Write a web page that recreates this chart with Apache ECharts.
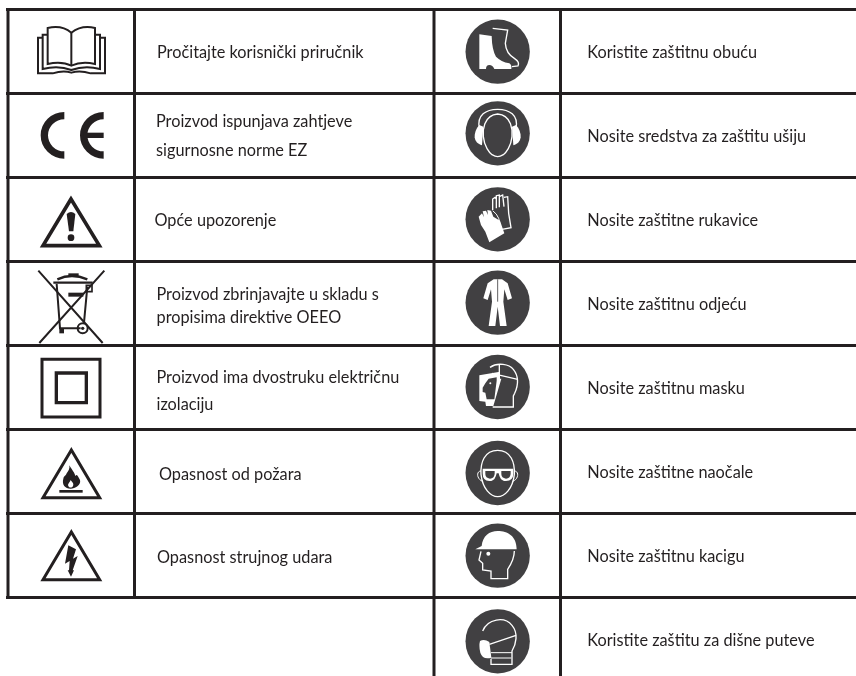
<!DOCTYPE html>
<html>
<head>
<meta charset="utf-8">
<style>html,body{margin:0;padding:0;background:#fff}#c{width:856px;height:676px}</style>
<script src="https://cdn.jsdelivr.net/npm/echarts@6/dist/echarts.min.js"></script>
</head>
<body>
<div id="c"></div>
<script>
// ---- table content ----
const leftLabels = [
  ['Pročitajte korisnički priručnik'],
  ['Proizvod ispunjava zahtjeve', 'sigurnosne norme EZ'],
  ['Opće upozorenje'],
  ['Proizvod zbrinjavajte u skladu s', 'propisima direktive OEEO'],
  ['Proizvod ima dvostruku električnu', 'izolaciju'],
  ['Opasnost od požara'],
  ['Opasnost strujnog udara']
];
const rightLabels = [
  ['Koristite zaštitnu obuću'],
  ['Nosite sredstva za zaštitu ušiju'],
  ['Nosite zaštitne rukavice'],
  ['Nosite zaštitnu odjeću'],
  ['Nosite zaštitnu masku'],
  ['Nosite zaštitne naočale'],
  ['Nosite zaštitnu kacigu'],
  ['Koristite zaštitu za dišne puteve']
];
// ---- layout ----
const ruleRows = [9.5, 93.5, 177.5, 261.5, 345.5, 429.5, 513.5, 597.5];
const leftRuleCols = [8, 134.5];
const rightRuleCols = [434, 560.5];
const leftTextX = [157, 156, 154.5, 156.5, 156.5, 159, 157];
const leftTextY = [[53], [122, 150.5], [221], [295, 318], [378, 405], [475], [558]];
const rightTextX = 587.3;
const rightTextY = [53, 137, 221, 305, 389, 473, 557, 641];

const INK = '#231f20', DISC = '#414042', W = '#ffffff';
const f = (d) => ({ d, fill: INK, stroke: null, w: 0 });
const s = (d, w) => ({ d, fill: null, stroke: INK, w: w });
const wf = (d) => ({ d, fill: W, stroke: null, w: 0 });
const ws = (d, w) => ({ d, fill: null, stroke: W, w: w || 4 });
const df = (d) => ({ d, fill: DISC, stroke: null, w: 0 });
const dw = (d, w) => ({ d, fill: DISC, stroke: W, w: w || 4 });
const circle = (cx, cy, r) => `M${cx - r} ${cy}A${r} ${r} 0 1 1 ${cx + r} ${cy}A${r} ${r} 0 1 1 ${cx - r} ${cy}Z`;
const disc = (cy) => df(circle(215, cy, 96.5));

// icons drawn at 3x, each with a page origin
const iconsLeft = [
  { o: [0, 0], p: [
    s('M143 84Q185 74 214 98Q245 74 285 84V192Q245 183 214 197Q185 183 143 192Z', 6),
    s('M214 98V197', 6),
    s('M143 104H128V207Q175 195 214 210Q255 195 300 207V104H285', 6),
    s('M128 113H114V220H158Q190 210 214 218Q240 210 272 220H315V113H300', 6)
  ]},
  { o: [0, 0], p: [
    s('M193 347A60 59 0 0 0 193 465', 22),
    s('M311 347A60 59 0 0 0 311 465', 22),
    s('M250 406H311', 16)
  ]},
  { o: [0, 0], p: [
    s('M213 597L129 737H298Z', 11),
    f('M200 642Q213 630 226 642L220 694H207Z'),
    f(circle(213, 713, 10))
  ]},
  { o: [0, 0], p: [
    s('M115 812L308 1029M313 812L118 1029', 6),
    s('M170 852L180 985H242M262 860L252 968', 6),
    s('M160 848H278', 7),
    s('M172 838Q215 818 262 838', 7),
    f('M205 820H236V829H205Z'),
    f('M205 878H250V890H205Z'),
    s('M259 856H276V875H259Z', 5),
    s(circle(248, 985, 15), 6),
    f(circle(248, 985, 5)),
    f('M178 985H192V1000H178Z')
  ]},
  { o: [0, 336], p: [
    { d: 'M126 70H300V243H126Z', fill: null, stroke: INK, w: 9 },
    { d: 'M169 111H259V200H169Z', fill: null, stroke: INK, w: 10 }
  ]},
  { o: [0, 336], p: [
    s('M214 342L129 485H299Z', 9),
    f('M208 388C218 405 224 410 226 420C232 412 233 420 240 432C244 448 225 458 212 458C195 458 185 445 190 428C192 418 198 420 200 412C205 405 210 398 208 388Z'),
    wf('M212 432C218 440 222 443 219 450C216 456 208 456 205 450C202 444 209 440 212 432Z'),
    f('M178 462H248V470H178Z')
  ]},
  { o: [0, 336], p: [
    s('M214 588L129 731H299Z', 9),
    f('M205 628L195 683L209 675L207 703H203L213 722L222 703H218L233 660L219 668L228 640Z')
  ]}
];
const iconsRight = [
  { o: [426, 0], p: [
    disc(155),
    ws('M200 85L245 90L238 130Q240 160 265 175Q282 186 276 198L258 200', 4),
    wf('M160 103L197 108Q198 150 210 170Q225 185 250 190Q258 195 256 207H205Q200 195 190 195Q180 195 180 207H160Z')
  ]},
  { o: [426, 0], p: [
    disc(400),
    ws('M160 385C152 345 180 328 215 328C250 328 278 345 270 385', 4),
    wf('M160 375C150 385 145 400 146 412C148 425 155 432 168 436L172 380Z'),
    wf('M270 375C280 385 285 400 284 412C282 425 275 432 262 436L258 380Z'),
    dw('M215 342C258 345 260 395 258 410C255 440 240 458 232 464Q222 470 215 470Q208 470 198 464C190 458 175 440 172 410C170 395 172 345 215 342Z', 4)
  ]},
  { o: [426, 0], p: [
    disc(658),
    ws('M200 630V597L207 592L211 597V625M211 597V587L220 585V622M220 590L230 585L234 620M234 592L245 590L248 640L255 683L228 688', 4),
    ws('M200 632Q225 650 222 688', 3),
    wf('M158 650L168 640L174 652L170 634L180 632L186 645L184 630L195 632L202 650L222 662L235 700L190 727L178 695L165 675Z')
  ]},
  { o: [426, 0], p: [
    disc(908),
    wf('M203 838H228L245 850L258 895L245 900L235 868L232 905L242 978H222L215 920L208 978H188L198 905L195 868L185 900L172 895L185 850Z'),
    { d: 'M215 838V905', fill: null, stroke: DISC, w: 2.5 }
  ]},
  { o: [426, 336], p: [
    disc(153),
    ws('M192 94C215 78 250 85 262 100C278 120 278 145 266 172L262 180V213H200', 4),
    ws('M220 84V128M198 112L275 130', 4),
    wf('M160 118L222 107L222 128H226L202 210H180L178 197L160 195Z'),
    df('M188 128L212 124V134L205 190H182L178 170L170 168V155L178 142Z'),
    wf(circle(193, 142, 3))
  ]},
  { o: [426, 336], p: [
    disc(411),
    ws('M215 343C175 343 163 380 165 415C170 460 195 482 215 482C235 482 260 460 265 415C267 380 255 343 215 343Z', 4),
    ws('M165 405C150 405 152 430 170 436M265 405C280 405 278 430 260 436', 3),
    wf('M170 398H262V412Q262 435 240 435H234Q222 432 218 412H212Q208 432 196 435H190Q170 435 170 412Z'),
    df('M178 405H206V414Q204 428 192 428Q178 426 178 414Z'),
    df('M226 405H254V414Q252 428 240 428Q226 426 226 414Z')
  ]},
  { o: [426, 336], p: [
    disc(659),
    wf('M148 640H272C272 600 245 585 215 585C190 585 170 600 167 630Z'),
    ws('M165 646L159 672L170 682V702L195 705V728H245V700C255 685 265 665 265 645', 4),
    wf(circle(187, 653, 6))
  ]},
  { o: [426, 336], p: [
    disc(916),
    ws('M170 885C185 848 235 840 258 868C278 892 270 925 258 945V985H195V968', 4),
    wf('M162 915Q175 908 190 918L196 965Q170 972 163 950Q158 930 162 915Z'),
    ws('M190 925L270 898', 4),
    ws('M195 950H258M195 966H256', 3)
  ]}
];
const ruleSegments = [];
ruleRows.forEach((y) => ruleSegments.push([6, y, 856, y]));
leftRuleCols.forEach((x) => ruleSegments.push([x, 9.5, x, 597.5]));
rightRuleCols.forEach((x) => ruleSegments.push([x, 9.5, x, 676]));

const textItems = [];
leftLabels.forEach((lines, i) => lines.forEach((t, j) => textItems.push([leftTextX[i], leftTextY[i][j], t])));
rightLabels.forEach((lines, i) => lines.forEach((t) => textItems.push([rightTextX, rightTextY[i], t])));
const iconItems = iconsLeft.concat(iconsRight);

const chart = echarts.init(document.getElementById('c'), null, { renderer: 'canvas' });
chart.setOption({
  animation: false,
  backgroundColor: '#fff',
  grid: { left: 0, right: 0, top: 0, bottom: 0 },
  xAxis: { type: 'value', min: 0, max: 856, show: false },
  yAxis: { type: 'value', min: 0, max: 676, inverse: true, show: false },
  series: [
    {
      type: 'custom', coordinateSystem: 'cartesian2d', silent: true, clip: false,
      data: ruleSegments,
      renderItem: (p, api) => {
        const a = api.coord([api.value(0), api.value(1)]), b = api.coord([api.value(2), api.value(3)]);
        return { type: 'line', shape: { x1: a[0], y1: a[1], x2: b[0], y2: b[1] }, style: { stroke: INK, lineWidth: 3, fill: null } };
      }
    },
    {
      type: 'custom', coordinateSystem: 'cartesian2d', silent: true, clip: false,
      data: iconItems.map((ic, i) => [ic.o[0], ic.o[1], i]),
      renderItem: (p, api) => {
        const c = api.coord([api.value(0), api.value(1)]);
        const ic = iconItems[p.dataIndex];
        return {
          type: 'group', x: c[0], y: c[1], scaleX: 1 / 3, scaleY: 1 / 3,
          children: ic.p.map((q) => ({
            type: 'path', shape: { pathData: q.d },
            style: { fill: q.fill || 'none', stroke: q.stroke || 'none', lineWidth: q.w }
          }))
        };
      }
    },
    {
      type: 'custom', coordinateSystem: 'cartesian2d', silent: true, clip: false,
      data: textItems,
      dimensions: ['x', 'y', 't'],
      encode: { x: 0, y: 1 },
      renderItem: (p, api) => {
        const d = textItems[p.dataIndex];
        const c = api.coord([d[0], d[1]]);
        return {
          type: 'text',
          style: { x: c[0], y: c[1], text: d[2], fill: INK, font: '16.3px Lato', textAlign: 'left', textVerticalAlign: 'middle' }
        };
      }
    }
  ]
});
</script>
</body>
</html>
